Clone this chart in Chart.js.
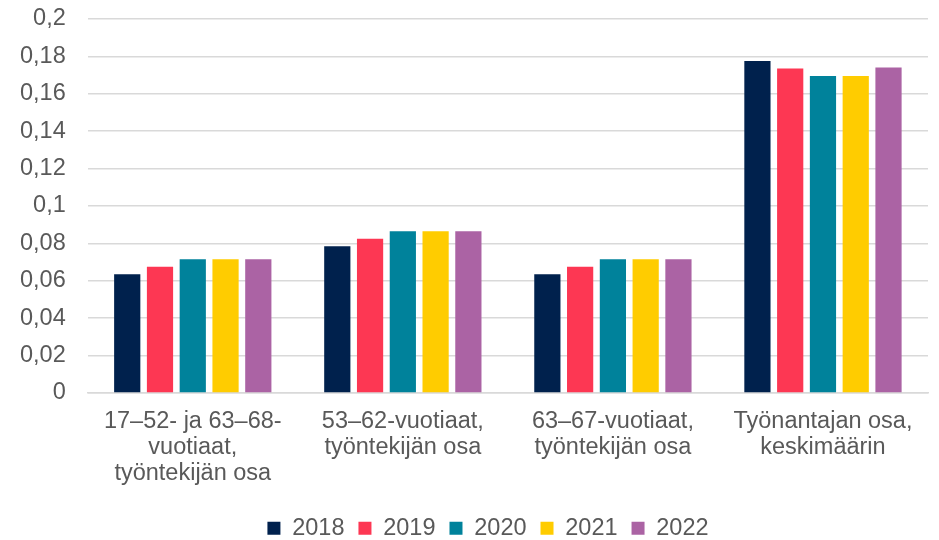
<!DOCTYPE html>
<html><head><meta charset="utf-8">
<script src="https://cdn.jsdelivr.net/npm/chart.js@4/dist/chart.umd.min.js"></script>
<style>html,body{margin:0;padding:0;background:#fff}#wrap{width:939px;height:540px}</style>
</head><body><div id="wrap"><canvas id="c" width="939" height="540"></canvas></div>
<script>
const categories = [
  ["17–52- ja 63–68-", "vuotiaat,", "työntekijän osa"],
  ["53–62-vuotiaat,", "työntekijän osa"],
  ["63–67-vuotiaat,", "työntekijän osa"],
  ["Työnantajan osa,", "keskimäärin"]
];
const years = ["2018", "2019", "2020", "2021", "2022"];
const v2018 = [0.0635, 0.0785, 0.0635, 0.1775];
const v2019 = [0.0675, 0.0825, 0.0675, 0.1735];
const v2020 = [0.0715, 0.0865, 0.0715, 0.1695];
const v2021 = [0.0715, 0.0865, 0.0715, 0.1695];
const v2022 = [0.0715, 0.0865, 0.0715, 0.1740];
const colors = ["#00214d", "#fd3753", "#00829b", "#ffcc00", "#ab63a4"];
const series = [v2018, v2019, v2020, v2021, v2022];

Chart.defaults.font.family = "'Liberation Sans', Arial, sans-serif";
Chart.defaults.font.size = 23.5;
Chart.defaults.font.lineHeight = 1.1;
Chart.defaults.color = "#595959";

const shiftLegend = {
  id: 'shiftLegend',
  afterLayout(chart) {
    if (chart.legend) { chart.legend.left += 16; chart.legend.right += 16; }
  }
};

new Chart(document.getElementById('c'), {
  type: 'bar',
  data: {
    labels: categories,
    datasets: years.map((y, i) => ({
      label: y, data: series[i], backgroundColor: colors[i],
      borderWidth: 0, barPercentage: 0.8, categoryPercentage: 0.78
    }))
  },
  options: {
    responsive: false, animation: false,
    layout: { padding: { top: 19, right: 11, left: 16, bottom: -10 } },
    scales: {
      y: {
        min: 0, max: 0.2,
        ticks: { stepSize: 0.02, padding: 4,
          callback: v => { let s = (Math.round(v * 100) / 100).toString(); return s.replace('.', ','); } },
        grid: { color: "#d9d9d9", lineWidth: 1.5, drawTicks: true, tickLength: 18, tickColor: "rgba(0,0,0,0)" },
        border: { display: false }
      },
      x: {
        ticks: { padding: 16, maxRotation: 0 },
        grid: { display: false, drawTicks: false },
        border: { color: "#d9d9d9", width: 1.5 }
      }
    },
    plugins: {
      legend: { position: 'bottom',
        labels: { boxWidth: 13, boxHeight: 13, padding: 14 } },
      tooltip: { enabled: false }
    }
  },
  plugins: [shiftLegend]
});
</script></body></html>
